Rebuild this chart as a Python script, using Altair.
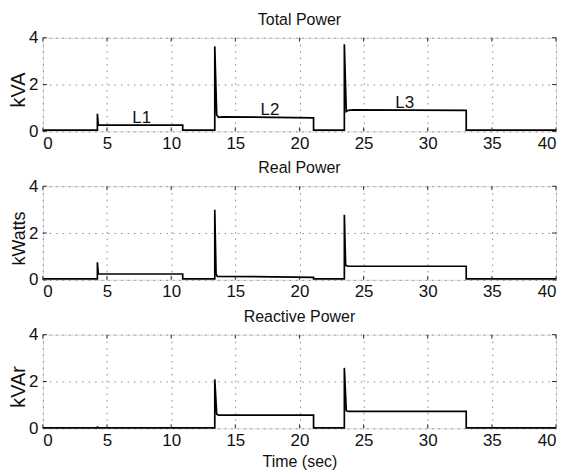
import altair as alt
import pandas as pd

# ---- data ----
total_t = [0, 4.25, 4.25, 4.32, 10.9, 10.9, 13.4, 13.4, 13.55, 13.7, 14.0, 21.1, 21.1,
           23.5, 23.5, 23.65, 23.8, 24.2, 33.0, 33.0, 40]
total_v = [0.05, 0.05, 0.75, 0.27, 0.27, 0.05, 0.05, 3.63, 0.70, 0.60, 0.62, 0.58, 0.05,
           0.05, 3.72, 0.85, 0.90, 0.92, 0.90, 0.05, 0.05]

real_t = [0, 4.25, 4.25, 4.32, 10.9, 10.9, 13.4, 13.4, 13.5, 13.6, 21.1, 21.1,
          23.5, 23.5, 23.6, 23.8, 33.0, 33.0, 40]
real_v = [0.04, 0.04, 0.75, 0.25, 0.25, 0.04, 0.04, 2.99, 0.25, 0.15, 0.11, 0.04,
          0.04, 2.78, 0.62, 0.58, 0.58, 0.04, 0.04]

reactive_t = [0, 4.25, 4.25, 4.3, 13.4, 13.4, 13.55, 13.7, 21.1, 21.1,
              23.5, 23.5, 23.65, 23.8, 33.0, 33.0, 40]
reactive_v = [0.02, 0.02, 0.08, 0.02, 0.02, 2.09, 0.60, 0.56, 0.56, 0.02,
              0.02, 2.58, 0.75, 0.72, 0.72, 0.02, 0.02]

label_text = ["L1", "L2", "L3"]
label_x = [7.7, 17.7, 28.2]
label_y = [0.56, 0.92, 1.22]

x_ticks = [0, 5, 10, 15, 20, 25, 30, 35, 40]
y_ticks = [0, 2, 4]

W, H = 515, 94
FONT = "Liberation Sans"

xticks_df = pd.DataFrame({"x": x_ticks})
yticks_df = pd.DataFrame({"y": y_ticks})


def panel(ts, vs, title, ylabel, ylabel_size, show_xtitle=False, labels=False):
    df = pd.DataFrame({"t": ts, "v": vs, "i": range(len(ts))})
    xscale = alt.Scale(domain=[0, 40], nice=False)
    yscale = alt.Scale(domain=[0, 4], nice=False)
    xaxis = alt.Axis(values=x_ticks, ticks=False, domain=False, grid=True,
                     gridDash=[1.5, 5], gridColor="#8a8a8a", gridWidth=1,
                     labelFontSize=17, labelPadding=4, labelColor="#111",
                     title="Time (sec)" if show_xtitle else None,
                     titleFontSize=16, titleFontWeight="normal", titlePadding=5,
                     titleColor="#111", labelFont=FONT, titleFont=FONT)
    yaxis = alt.Axis(values=y_ticks, ticks=False, domain=False, grid=True,
                     gridDash=[1.5, 5], gridColor="#8a8a8a", gridWidth=1,
                     labelFontSize=17, labelPadding=5, labelColor="#111",
                     title=ylabel, titleFontSize=ylabel_size, titleFontWeight="normal",
                     titleX=-14, titleY=H / 2 + 5, titleAlign="center", titleBaseline="bottom",
                     titleColor="#111", labelFont=FONT, titleFont=FONT)
    line = alt.Chart(df).mark_line(color="black", strokeWidth=1.7, interpolate="linear").encode(
        x=alt.X("t:Q", scale=xscale, axis=xaxis),
        y=alt.Y("v:Q", scale=yscale, axis=yaxis),
        order="i:Q",
    )
    top_t = alt.Chart(xticks_df).mark_rule(color="#333").encode(
        x=alt.X("x:Q", scale=xscale), y=alt.value(0), y2=alt.value(4))
    bot_t = alt.Chart(xticks_df).mark_rule(color="#333").encode(
        x=alt.X("x:Q", scale=xscale), y=alt.value(H), y2=alt.value(H - 4))
    left_t = alt.Chart(yticks_df).mark_rule(color="#333").encode(
        y=alt.Y("y:Q", scale=yscale), x=alt.value(0), x2=alt.value(4))
    right_t = alt.Chart(yticks_df).mark_rule(color="#333").encode(
        y=alt.Y("y:Q", scale=yscale), x=alt.value(W), x2=alt.value(W - 4))
    layers = [line, top_t, bot_t, left_t, right_t]
    if labels:
        ldf = pd.DataFrame({"x": label_x, "y": label_y, "s": label_text})
        layers.append(alt.Chart(ldf).mark_text(fontSize=17, font=FONT, color="#111").encode(
            x=alt.X("x:Q", scale=xscale), y=alt.Y("y:Q", scale=yscale), text="s:N"))
    return alt.layer(*layers).properties(
        width=W, height=H,
        title=alt.TitleParams(title, fontSize=16, fontWeight="normal", font=FONT,
                              color="#111", offset=1, anchor="middle", frame="group"))


p1 = panel(total_t, total_v, "Total Power", "kVA", 20, labels=True)
p2 = panel(real_t, real_v, "Real Power", "kWatts", 18)
p3 = panel(reactive_t, reactive_v, "Reactive Power", "kVAr", 20, show_xtitle=True)

chart = alt.vconcat(p1, p2, p3, spacing=7).properties(
    padding={"left": 0, "top": 2, "right": 0, "bottom": 0}
).configure_view(stroke="#444", strokeWidth=1.2).configure(background="white")

chart.save("out.html", embed_options={"renderer": "svg", "actions": False})
